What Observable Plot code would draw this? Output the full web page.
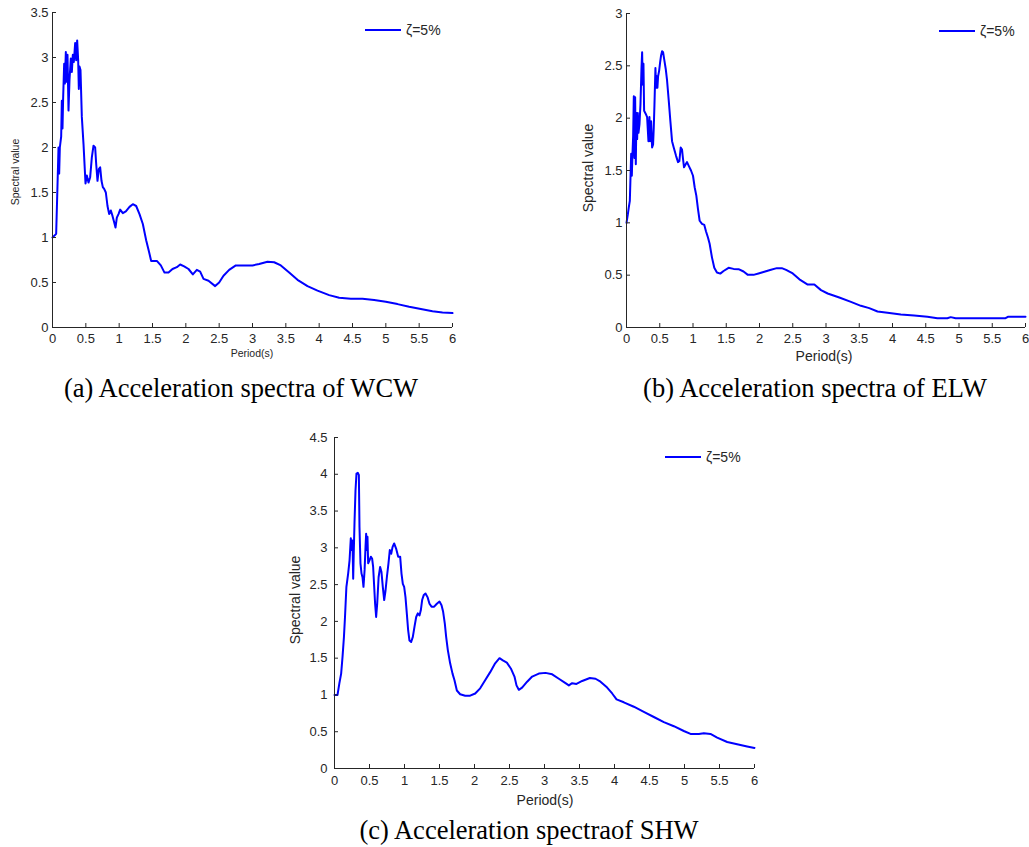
<!DOCTYPE html>
<html>
<head>
<meta charset="utf-8">
<script src="https://cdn.jsdelivr.net/npm/d3@7"></script>
<script src="https://cdn.jsdelivr.net/npm/@observablehq/plot@0.6"></script>
<style>
  body { margin: 0; background: #fff; width: 1029px; height: 847px; position: relative; overflow: hidden;
         font-family: "Liberation Sans", Arial, sans-serif; }
  .panel { position: absolute; }
  .caption { position: absolute; font-family: "Liberation Serif", "Times New Roman", serif; font-size: 26.5px;
             color: #000; white-space: nowrap; transform: translate(-50%, -50%); }
  .axis-label { position: absolute; color: #262626; white-space: nowrap; transform: translate(-50%, -50%); }
  .axis-label.vertical { transform: translate(-50%, -50%) rotate(-90deg); }
  .legend { position: absolute; display: flex; align-items: center; color: #262626; white-space: nowrap; }
  .legend svg { margin-right: 5px; }
</style>
</head>
<body>
<script>
// Period (s) and 5%-damped spectral value for each record
const wcw = [
  [0, 1.0], [0.055, 1.04], [0.075, 1.58], [0.09, 2.0], [0.1, 1.71], [0.11, 2.0], [0.13, 2.12], [0.14, 2.52], [0.15, 2.21], [0.16, 2.56],
  [0.175, 2.93], [0.185, 2.71], [0.2, 3.06], [0.21, 2.73], [0.225, 3.03], [0.24, 2.41], [0.255, 2.75], [0.275, 2.99], [0.29, 2.84], [0.305, 3.03],
  [0.32, 2.95], [0.34, 3.16], [0.355, 2.97], [0.37, 3.19], [0.385, 2.97], [0.395, 2.65], [0.405, 2.9], [0.42, 2.86], [0.44, 2.34], [0.465, 2.04],
  [0.495, 1.6], [0.515, 1.69], [0.54, 1.61], [0.565, 1.67], [0.59, 1.89], [0.615, 2.02], [0.64, 2.0], [0.655, 1.82], [0.675, 1.63], [0.695, 1.76],
  [0.715, 1.78], [0.735, 1.63], [0.755, 1.56], [0.775, 1.54], [0.8, 1.5], [0.825, 1.35], [0.85, 1.26], [0.875, 1.3], [0.9, 1.24], [0.925, 1.17],
  [0.945, 1.11], [0.965, 1.22], [0.99, 1.26], [1.015, 1.31], [1.055, 1.27], [1.1, 1.29], [1.155, 1.34], [1.205, 1.37], [1.255, 1.35], [1.305, 1.26],
  [1.355, 1.15], [1.405, 0.97], [1.445, 0.85], [1.48, 0.74], [1.565, 0.74], [1.625, 0.69], [1.68, 0.61], [1.74, 0.61], [1.8, 0.65], [1.865, 0.67],
  [1.915, 0.70], [1.975, 0.68], [2.04, 0.65], [2.105, 0.59], [2.165, 0.64], [2.215, 0.62], [2.265, 0.54], [2.34, 0.52], [2.44, 0.46], [2.5, 0.5],
  [2.565, 0.575], [2.65, 0.64], [2.75, 0.69], [2.875, 0.69], [3.0, 0.69], [3.1, 0.705], [3.225, 0.73], [3.325, 0.725], [3.425, 0.69], [3.55, 0.61],
  [3.675, 0.53], [3.825, 0.46], [3.975, 0.41], [4.15, 0.36], [4.3, 0.33], [4.475, 0.32], [4.65, 0.32], [4.825, 0.305], [5.0, 0.285], [5.175, 0.26],
  [5.35, 0.23], [5.525, 0.205], [5.7, 0.18], [5.85, 0.167], [6.0, 0.16]
];

const elw = [
  [0, 1.0], [0.02, 1.08], [0.035, 1.15], [0.05, 1.21], [0.06, 1.43], [0.07, 1.66], [0.08, 1.45], [0.09, 1.66], [0.1, 1.83], [0.11, 2.21],
  [0.12, 1.62], [0.13, 2.2], [0.14, 1.56], [0.15, 2.05], [0.16, 1.8], [0.17, 2.05], [0.18, 1.86], [0.195, 1.94], [0.21, 2.13], [0.225, 2.47],
  [0.235, 2.63], [0.245, 2.32], [0.255, 2.52], [0.265, 2.07], [0.29, 2.04], [0.31, 2.01], [0.33, 1.78], [0.345, 2.01], [0.355, 1.78], [0.37, 1.97],
  [0.385, 1.72], [0.4, 1.75], [0.41, 1.91], [0.42, 2.12], [0.435, 2.48], [0.445, 2.29], [0.455, 2.4], [0.465, 2.29], [0.475, 2.4], [0.49, 2.45],
  [0.505, 2.53], [0.52, 2.6], [0.535, 2.64], [0.55, 2.63], [0.57, 2.55], [0.59, 2.47], [0.61, 2.36], [0.635, 2.17], [0.66, 1.97], [0.685, 1.78],
  [0.71, 1.72], [0.745, 1.64], [0.775, 1.58], [0.795, 1.59], [0.815, 1.72], [0.835, 1.70], [0.85, 1.61], [0.865, 1.53], [0.89, 1.56], [0.91, 1.58],
  [0.94, 1.54], [0.97, 1.50], [1.0, 1.45], [1.025, 1.34], [1.05, 1.26], [1.075, 1.13], [1.1, 1.02], [1.135, 0.99], [1.17, 0.98], [1.195, 0.92],
  [1.225, 0.86], [1.25, 0.80], [1.285, 0.67], [1.32, 0.57], [1.36, 0.525], [1.41, 0.515], [1.46, 0.54], [1.535, 0.57], [1.61, 0.56], [1.685, 0.557],
  [1.76, 0.535], [1.825, 0.503], [1.91, 0.503], [1.985, 0.516], [2.06, 0.53], [2.16, 0.55], [2.26, 0.567], [2.335, 0.567], [2.4, 0.55], [2.5, 0.516],
  [2.6, 0.46], [2.725, 0.41], [2.825, 0.41], [2.925, 0.357], [3.025, 0.325], [3.2, 0.287], [3.375, 0.245], [3.525, 0.207], [3.65, 0.185], [3.775, 0.153],
  [3.925, 0.14], [4.125, 0.124], [4.325, 0.115], [4.525, 0.102], [4.675, 0.089], [4.825, 0.089], [4.875, 0.099], [4.95, 0.089], [5.125, 0.089], [5.425, 0.089],
  [5.7, 0.089], [5.735, 0.102], [6.0, 0.102]
];

const shw = [
  [0, 1.0], [0.043, 1.0], [0.07, 1.16], [0.095, 1.29], [0.115, 1.52], [0.135, 1.79], [0.15, 2.06], [0.17, 2.47], [0.195, 2.65], [0.215, 2.83],
  [0.233, 3.13], [0.248, 2.97], [0.257, 3.1], [0.267, 2.58], [0.276, 2.97], [0.286, 3.35], [0.3, 3.78], [0.314, 4.01], [0.333, 4.02], [0.348, 3.99],
  [0.357, 3.28], [0.371, 2.79], [0.386, 2.65], [0.4, 2.6], [0.414, 2.47], [0.43, 2.7], [0.443, 3.01], [0.452, 3.19], [0.462, 2.97], [0.471, 3.15],
  [0.481, 2.79], [0.5, 2.83], [0.52, 2.88], [0.538, 2.85], [0.552, 2.74], [0.567, 2.47], [0.58, 2.24], [0.595, 2.06], [0.61, 2.24], [0.63, 2.6],
  [0.652, 2.74], [0.671, 2.67], [0.69, 2.47], [0.71, 2.29], [0.729, 2.42], [0.748, 2.6], [0.771, 2.79], [0.79, 2.97], [0.81, 2.92], [0.829, 3.01],
  [0.852, 3.06], [0.88, 2.99], [0.91, 2.88], [0.938, 2.88], [0.957, 2.65], [0.976, 2.51], [0.995, 2.47], [1.014, 2.33], [1.033, 2.11], [1.052, 1.88],
  [1.071, 1.74], [1.095, 1.72], [1.119, 1.79], [1.143, 1.93], [1.167, 2.06], [1.19, 2.11], [1.214, 2.08], [1.233, 2.15], [1.252, 2.29], [1.276, 2.36],
  [1.3, 2.38], [1.329, 2.33], [1.357, 2.24], [1.386, 2.2], [1.424, 2.2], [1.462, 2.24], [1.5, 2.27], [1.529, 2.22], [1.552, 2.13], [1.576, 1.97],
  [1.595, 1.79], [1.619, 1.61], [1.652, 1.43], [1.686, 1.29], [1.714, 1.2], [1.748, 1.06], [1.795, 1.01], [1.867, 0.99], [1.938, 0.99], [2.01, 1.02],
  [2.081, 1.09], [2.152, 1.2], [2.224, 1.31], [2.295, 1.43], [2.357, 1.5], [2.405, 1.47], [2.462, 1.44], [2.519, 1.36], [2.571, 1.25], [2.6, 1.13],
  [2.633, 1.07], [2.68, 1.1], [2.752, 1.18], [2.824, 1.25], [2.919, 1.29], [3.014, 1.3], [3.11, 1.28], [3.205, 1.22], [3.3, 1.16], [3.348, 1.13],
  [3.395, 1.16], [3.457, 1.15], [3.538, 1.19], [3.648, 1.23], [3.729, 1.22], [3.8, 1.18], [3.895, 1.1], [3.967, 1.02], [4.029, 0.94], [4.133, 0.9],
  [4.276, 0.84], [4.419, 0.77], [4.562, 0.70], [4.705, 0.63], [4.848, 0.575], [4.99, 0.51], [5.086, 0.47], [5.205, 0.47], [5.276, 0.48], [5.371, 0.47],
  [5.467, 0.42], [5.61, 0.36], [5.752, 0.33], [5.895, 0.30], [6.0, 0.28]
];

// Axis ticks
const periodTicks = [0, 0.5, 1, 1.5, 2, 2.5, 3, 3.5, 4, 4.5, 5, 5.5, 6];
const ticksA = [0, 0.5, 1, 1.5, 2, 2.5, 3, 3.5];
const ticksB = [0, 0.5, 1, 1.5, 2, 2.5, 3];
const ticksC = [0, 0.5, 1, 1.5, 2, 2.5, 3, 3.5, 4, 4.5];

// Text
const legendText = "ζ=5%";
const xTitle = "Period(s)";
const yTitle = "Spectral value";
const captions = ["(a) Acceleration spectra of WCW", "(b) Acceleration spectra of ELW", "(c) Acceleration spectraof SHW"];

const LINE = "#0000ff";
const AXIS = "#262626";
const fmt = d => String(d);

function addDiv(cls, text, style) {
  const d = document.createElement("div");
  d.className = cls;
  if (text != null) d.textContent = text;
  Object.assign(d.style, style);
  document.body.appendChild(d);
  return d;
}

function spectrumPanel(cfg) {
  const chart = Plot.plot({
    width: cfg.width,
    height: cfg.height,
    marginLeft: cfg.margin[3],
    marginRight: cfg.margin[1],
    marginTop: cfg.margin[0],
    marginBottom: cfg.margin[2],
    style: { fontFamily: "'Liberation Sans', Arial, sans-serif", fontSize: "13px", color: AXIS, background: "#fff" },
    x: { domain: [0, 6] },
    y: { domain: [0, cfg.yMax] },
    marks: [
      Plot.line(cfg.data, { x: d => d[0], y: d => d[1], stroke: LINE, strokeWidth: 2 }),
      Plot.ruleX([0], { stroke: AXIS }),
      Plot.ruleY([0], { stroke: AXIS }),
      Plot.axisX(periodTicks, { tickSize: -cfg.tick, tickPadding: cfg.tick + cfg.xPad, tickFormat: fmt, label: null, stroke: AXIS }),
      Plot.axisY(cfg.yTicks, { tickSize: -cfg.tick, tickPadding: cfg.tick + cfg.yPad, tickFormat: fmt, label: null, stroke: AXIS })
    ]
  });
  const wrap = addDiv("panel", null, { left: cfg.left + "px", top: cfg.top + "px" });
  wrap.appendChild(chart);

  addDiv("axis-label", xTitle, { left: cfg.xLabel[0] + "px", top: cfg.xLabel[1] + "px", fontSize: cfg.labelSize + "px" });
  addDiv("axis-label vertical", yTitle, { left: cfg.yLabel[0] + "px", top: cfg.yLabel[1] + "px", fontSize: cfg.labelSize + "px" });

  const lg = addDiv("legend", null, { left: cfg.legend[0] + "px", top: (cfg.legend[1] - 10) + "px", height: "20px", fontSize: "14px" });
  const ns = "http://www.w3.org/2000/svg";
  const s = document.createElementNS(ns, "svg");
  s.setAttribute("width", 36); s.setAttribute("height", 20);
  const l = document.createElementNS(ns, "line");
  l.setAttribute("x1", 0); l.setAttribute("x2", 36); l.setAttribute("y1", 10); l.setAttribute("y2", 10);
  l.setAttribute("stroke", LINE); l.setAttribute("stroke-width", 2);
  s.appendChild(l);
  lg.appendChild(s);
  const t = document.createElement("span");
  t.textContent = legendText;
  lg.appendChild(t);

  addDiv("caption", cfg.caption, { left: cfg.captionPos[0] + "px", top: cfg.captionPos[1] + "px" });
}

spectrumPanel({
  data: wcw, yMax: 3.5, yTicks: ticksA,
  left: 0, top: 0, width: 465, height: 352, margin: [12, 13, 25, 52],
  tick: 4, xPad: 6, yPad: 4, labelSize: 10.5,
  xLabel: [252, 353], yLabel: [15, 172], legend: [365, 30],
  caption: captions[0], captionPos: [241, 388]
});

spectrumPanel({
  data: elw, yMax: 3, yTicks: ticksB,
  left: 570, top: 0, width: 459, height: 352, margin: [13, 4, 25, 56],
  tick: 4, xPad: 6, yPad: 4, labelSize: 14,
  xLabel: [824, 356], yLabel: [588, 168], legend: [939, 31],
  caption: captions[1], captionPos: [815, 388]
});

spectrumPanel({
  data: shw, yMax: 4.5, yTicks: ticksC,
  left: 280, top: 420, width: 490, height: 375, margin: [17, 16, 27, 54],
  tick: 4, xPad: 7, yPad: 7, labelSize: 14,
  xLabel: [545, 800], yLabel: [295, 600], legend: [665, 457],
  caption: captions[2], captionPos: [529, 830]
});
</script>
</body>
</html>
